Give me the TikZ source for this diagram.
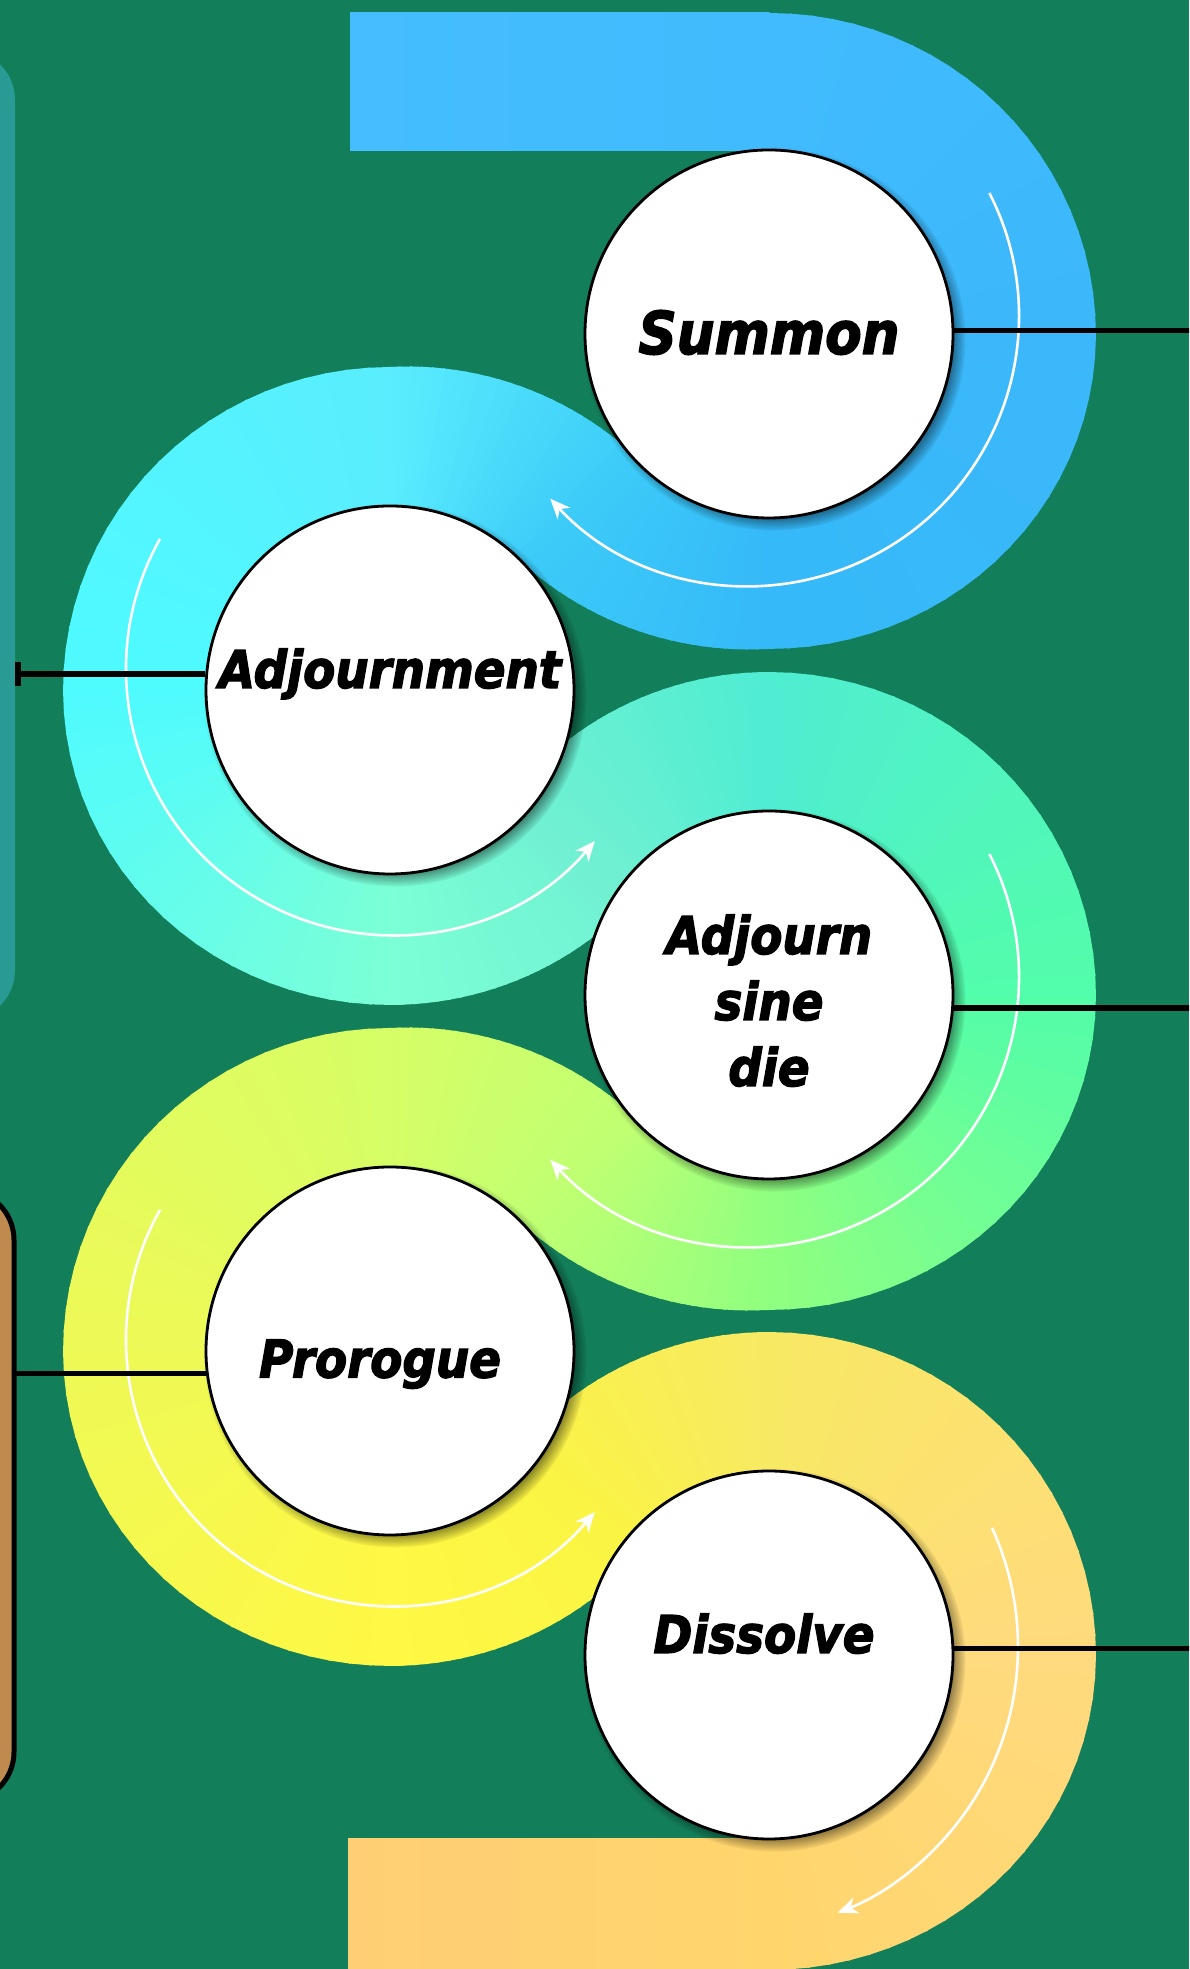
\documentclass[tikz,border=0pt]{standalone}
\usepackage{fontspec}
\newfontfamily\lbl{DejaVu Sans}[FakeStretch=0.9, BoldItalicFeatures={FakeBold=2.5}]
\usetikzlibrary{calc,shadows,fadings,arrows.meta}
\definecolor{bg}{HTML}{137E5A}
\definecolor{tealpanel}{HTML}{2A9B94}
\definecolor{brownpanel}{HTML}{BE8A4E}
% band colours (shared colours at the joints)
\definecolor{j1}{HTML}{3CCBF8}\definecolor{j2}{HTML}{70F0D2}\definecolor{j3}{HTML}{C0FF72}\definecolor{j4}{HTML}{FAF444}
\definecolor{c1a}{HTML}{45BDFF}\definecolor{c1b}{HTML}{41BBFD}\definecolor{c1c}{HTML}{3CB8FA}\definecolor{c1d}{HTML}{35B9F8}
\definecolor{c2b}{HTML}{5AEDFE}\definecolor{c2c}{HTML}{4EFBFF}\definecolor{c2d}{HTML}{7CFFD6}
\definecolor{c3b}{HTML}{4FEDD2}\definecolor{c3c}{HTML}{52FDAA}\definecolor{c3d}{HTML}{90FF80}
\definecolor{c4b}{HTML}{D6FE66}\definecolor{c4c}{HTML}{EEF956}\definecolor{c4d}{HTML}{FFF844}
\definecolor{c5b}{HTML}{F8E964}\definecolor{c5c}{HTML}{FFDA7E}\definecolor{c5d}{HTML}{FFD56C}\definecolor{c5e}{HTML}{FFCF75}
% ring outer radius as a function of angle: side 327, top 323, bottom 315
\pgfmathdeclarefunction{ringR}{1}{\pgfmathparse{327-((sin(#1)>0) ? 4 : 12)*(sin(#1))^2}}
% #1 cx, #2 cy, #3 a1, #4 a2, #5 colA, #6 colB, #7 bump at a1, #8 bump at a2
\newcommand\bandpart[8]{%
  \foreach \k in {0,...,23}{%
    \pgfmathsetmacro\ta{#3+((#4)-(#3))*\k/24}%
    \pgfmathsetmacro\tb{#3+((#4)-(#3))*(\k+1)/24+0.4*((#4)-(#3))/abs((#4)-(#3))}%
    \pgfmathsetmacro\pc{100*(\k+0.5)/24}%
    \pgfmathsetmacro\ra{ringR(\ta)+#7+((#8)-(#7))*\k/24}%
    \pgfmathsetmacro\rb{ringR(\tb)+#7+((#8)-(#7))*(\k+1)/24}%
    \fill[#6!\pc!#5] ($(#1,#2)+(\ta:150)$) -- ($(#1,#2)+(\ta:\ra)$)
      -- ($(#1,#2)+(\tb:\rb)$) -- ($(#1,#2)+(\tb:150)$) -- cycle;
  }}
\tikzset{
  circ/.style={circle, draw=black, line width=2.8pt, fill=white, minimum size=368pt,
    inner sep=0pt, circular drop shadow={shadow xshift=5pt, shadow yshift=-5pt, shadow scale=1.04, opacity=0.9, fill=black}},
  lblfont/.style={font=\lbl\bfseries\itshape\fontsize{52}{66}\selectfont},
  conn/.style={draw=black, line width=5.5pt},
  flow/.style={draw=white, line width=2.6pt, -{Stealth[length=20pt,width=17pt,inset=6pt]}},
}
\begin{document}
\begin{tikzpicture}[x=1pt,y=1pt]
\useasboundingbox (0,0) rectangle (1189,1969);
\clip (0,0) rectangle (1189,1969);
\fill[bg] (0,0) rectangle (1189,1969);
\coordinate (Rx) at (1195,0);
% side panels
\node[rectangle, fill=tealpanel, rounded corners=50pt, minimum width=115pt, minimum height=970pt, inner sep=0pt, outer sep=0pt] (T) at (-42.5,1434) {};
\node[rectangle, draw=black, line width=5pt, fill=brownpanel, rounded corners=50pt, minimum width=114pt, minimum height=612pt, inner sep=0pt, outer sep=0pt] (B) at (-43,473) {};
% segment 1 (Summon)
\shade[left color=c1a, right color=c1b] (350,1818) rectangle (769.5,1956);
\bandpart{769}{1635}{90}{0}{c1b}{c1c}{-2}{0}
\bandpart{769}{1635}{0}{-90}{c1c}{c1d}{0}{0}
\bandpart{769}{1635}{-90}{-136.8}{c1d}{j1}{0}{15}
% segment 2 (Adjournment)
\bandpart{390}{1279}{43.2}{90}{j1}{c2b}{14}{0}
\bandpart{390}{1279}{90}{180}{c2b}{c2c}{0}{0}
\bandpart{390}{1279}{180}{270}{c2c}{c2d}{0}{0}
\bandpart{390}{1279}{270}{321.2}{c2d}{j2}{0}{0}
% segment 3 (Adjourn sine die)
\bandpart{769}{974}{141.2}{90}{j2}{c3b}{0}{0}
\bandpart{769}{974}{90}{0}{c3b}{c3c}{0}{0}
\bandpart{769}{974}{0}{-90}{c3c}{c3d}{0}{0}
\bandpart{769}{974}{-90}{-136.8}{c3d}{j3}{0}{15}
% segment 4 (Prorogue)
\bandpart{390}{618}{43.2}{90}{j3}{c4b}{14}{0}
\bandpart{390}{618}{90}{180}{c4b}{c4c}{0}{0}
\bandpart{390}{618}{180}{270}{c4c}{c4d}{0}{0}
\bandpart{390}{618}{270}{321.3}{c4d}{j4}{0}{0}
% segment 5 (Dissolve)
\bandpart{769}{314}{141.3}{90}{j4}{c5b}{0}{0}
\bandpart{769}{314}{90}{0}{c5b}{c5c}{0}{0}
\bandpart{769}{314}{0}{-90}{c5c}{c5d}{0}{0}
\shade[left color=c5e, right color=c5d] (348,-20) rectangle (769.5,130);
% white flow arrows
\draw[flow] ($(749,1653)+(27.1:270)$) arc[start angle=27.1, end angle=-137.4, radius=270];
\draw[flow] ($(392,1300)+(150.7:266)$) arc[start angle=150.7, end angle=319.7, radius=266];
\draw[flow] ($(749,992)+(27.1:270)$) arc[start angle=27.1, end angle=-137.4, radius=270];
\draw[flow] ($(392,629)+(150.7:266)$) arc[start angle=150.7, end angle=319.7, radius=266];
\draw[flow] ($(732,322)+(24.6:286)$) arc[start angle=24.6, end angle=-68.3, radius=286];
% circles
\node[circ, font=\lbl\bfseries\itshape\fontsize{59}{70}\selectfont] (S) at (769,1635) {\raisebox{-20pt}[0pt][0pt]{Summon}};
\node[circ, lblfont] (A) at (390,1279) {\raisebox{2pt}[0pt][0pt]{Adjournment}};
\node[circ, lblfont] (D) at (769,974) {\raisebox{-91pt}[0pt][0pt]{\begin{tabular}[b]{@{}c@{}}Adjourn\\sine\\die\end{tabular}}};
\node[circ, lblfont] (P) at (390,618) {\hspace*{-20pt}\raisebox{-26.5pt}[0pt][0pt]{Prorogue}};
\node[circ, lblfont] (X) at (769,314) {\hspace*{-10pt}\raisebox{2pt}[0pt][0pt]{Dissolve}};
% connectors
\draw[conn] (S.1) -- (S.1 -| Rx);
\draw[conn, -{Bar[width=24pt]}] (A.175) -- (A.175 -| T.east);
\draw[conn] (D.-4) -- (D.-4 -| Rx);
\draw[conn] (P.187) -- (P.187 -| B.east);
\draw[conn] (X.2) -- (X.2 -| Rx);
\end{tikzpicture}
\end{document}
